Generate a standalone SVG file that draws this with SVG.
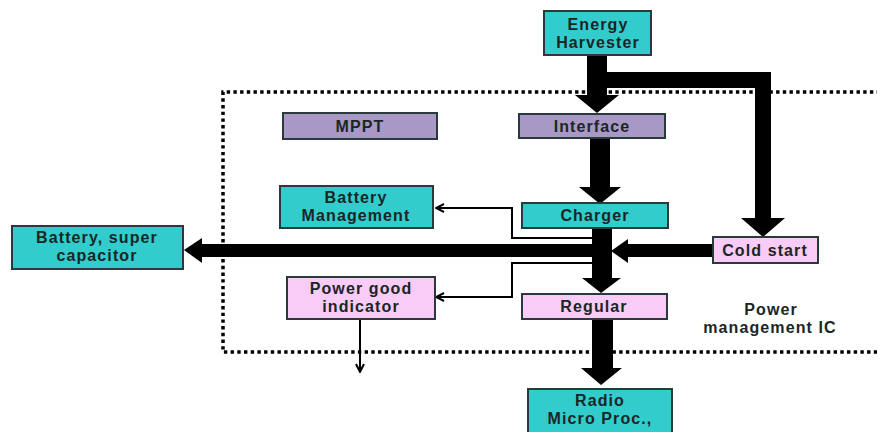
<svg xmlns="http://www.w3.org/2000/svg" width="877" height="432" viewBox="0 0 877 432">
<defs>
<style>
.box{stroke:#2a3a3a;stroke-width:2}
.teal{fill:#33CCCC}
.lav{fill:#A898C6}
.pink{fill:#F8CCF6}
.t{font-family:"Liberation Sans",Arial,sans-serif;font-weight:bold;font-size:16px;letter-spacing:1.1px;fill:#1a2626;text-anchor:middle}
.thick{fill:#000}
.thin{fill:none;stroke:#000;stroke-width:2}
.border{fill:none;stroke:#000;stroke-width:3.5;stroke-dasharray:3.4 3.3}
</style>
<marker id="open" viewBox="0 0 10 10" refX="9" refY="5" markerWidth="10" markerHeight="10" markerUnits="userSpaceOnUse" orient="auto">
<path d="M1,1 L9,5 L1,9" fill="none" stroke="#000" stroke-width="2"/>
</marker>
</defs>
<rect width="877" height="432" fill="#fff"/>
<path class="border" d="M880,92 H223 V352 H880"/>
<g id="connectors">
<rect class="thick" x="587" y="55" width="20" height="41"/>
<polygon class="thick" points="575,95 619,95 597,113"/>
<rect class="thick" x="600" y="72" width="171" height="16"/>
<rect class="thick" x="755" y="72" width="16" height="147"/>
<polygon class="thick" points="741,218 785,218 763,237"/>
<rect class="thick" x="590" y="138" width="20" height="50"/>
<polygon class="thick" points="579,187 621,187 600,204"/>
<rect class="thick" x="592" y="228" width="20" height="51"/>
<polygon class="thick" points="582,278 621,278 601,293"/>
<rect class="thick" x="201" y="244" width="396" height="13"/>
<polygon class="thick" points="202,238 202,263 184,250"/>
<rect class="thick" x="626" y="244" width="88" height="13"/>
<polygon class="thick" points="628,239 628,263 611,251"/>
<rect class="thick" x="592" y="319" width="21" height="50"/>
<polygon class="thick" points="581,368 622,368 601,385"/>
<path class="thin" d="M593,238 H512 V208 H436" marker-end="url(#open)"/>
<path class="thin" d="M593,263 H512 V297 H436" marker-end="url(#open)"/>
<path class="thin" d="M360,319 V372" marker-end="url(#open)"/>
</g>
<g id="energy-harvester">
<rect class="box teal" x="544" y="11" width="107" height="44"/>
<text class="t" x="598" y="30">Energy</text>
<text class="t" x="598" y="48">Harvester</text>
</g>
<g id="mppt">
<rect class="box lav" x="283" y="113" width="154" height="26"/>
<text class="t" x="360" y="132">MPPT</text>
</g>
<g id="interface">
<rect class="box lav" x="519" y="114" width="146" height="24"/>
<text class="t" x="592" y="132">Interface</text>
</g>
<g id="battery-management">
<rect class="box teal" x="280" y="186" width="153" height="42"/>
<text class="t" x="356" y="203">Battery</text>
<text class="t" x="356" y="221">Management</text>
</g>
<g id="charger">
<rect class="box teal" x="522" y="203" width="146" height="25"/>
<text class="t" x="595" y="221">Charger</text>
</g>
<g id="battery-super-capacitor">
<rect class="box teal" x="12" y="226" width="171" height="43"/>
<text class="t" x="97" y="243">Battery, super</text>
<text class="t" x="97" y="261">capacitor</text>
</g>
<g id="cold-start">
<rect class="box pink" x="713" y="237" width="105" height="26"/>
<text class="t" x="765" y="256">Cold start</text>
</g>
<g id="power-good-indicator">
<rect class="box pink" x="287" y="277" width="148" height="42"/>
<text class="t" x="361" y="294">Power good</text>
<text class="t" x="361" y="312">indicator</text>
</g>
<g id="regular">
<rect class="box pink" x="522" y="294" width="145" height="25"/>
<text class="t" x="594" y="312">Regular</text>
</g>
<g id="power-management-ic">
<text class="t" x="771" y="315">Power</text>
<text class="t" x="770" y="333">management IC</text>
</g>
<g id="radio-micro-proc">
<rect class="box teal" x="528" y="389" width="144" height="50"/>
<text class="t" x="600" y="406">Radio</text>
<text class="t" x="600" y="424">Micro Proc.,</text>
</g>
</svg>
